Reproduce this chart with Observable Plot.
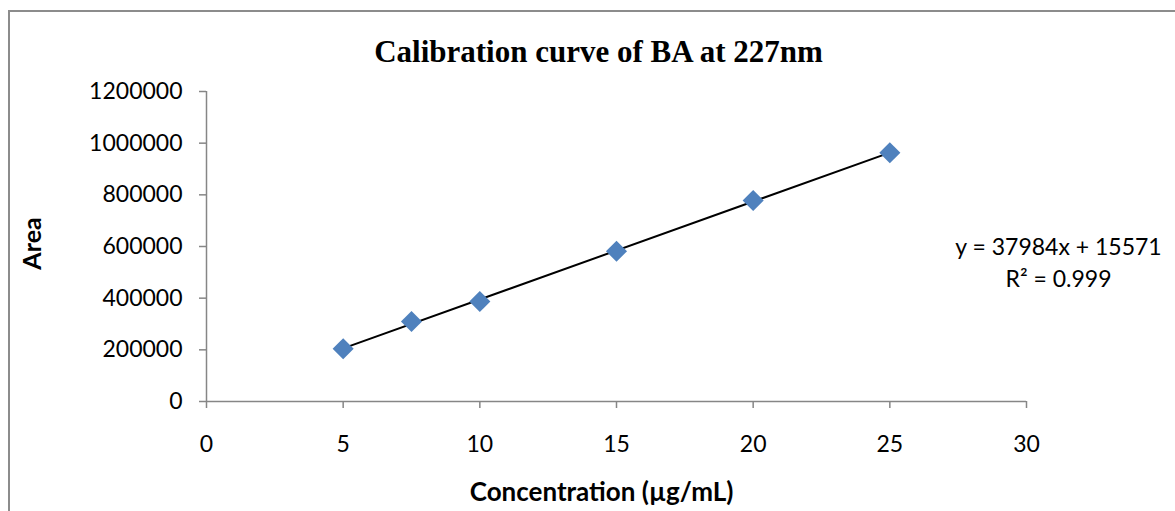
<!DOCTYPE html>
<html>
<head>
<meta charset="utf-8">
<script src="https://cdn.jsdelivr.net/npm/d3@7"></script>
<script src="https://cdn.jsdelivr.net/npm/@observablehq/plot@0.6"></script>
<style>
  html, body { margin: 0; padding: 0; background: #fff; }
  body { position: relative; width: 1175px; height: 511px; overflow: hidden; }
  #frame { position: absolute; left: 8px; top: 10px; width: 1300px; height: 700px;
           border: 2px solid #8c8c8c; box-sizing: border-box; }
  #title { position: absolute; left: 0; top: 36px; width: 1197px; text-align: center;
           font-family: "Liberation Serif", "Times New Roman", serif; font-weight: bold;
           font-size: 31px; line-height: 31px; color: #000; }
  #chart { position: absolute; left: 0; top: 0; }
</style>
</head>
<body>
<div id="frame"></div>
<div id="title">Calibration curve of BA at 227nm</div>
<div id="chart"></div>
<script>
// Data
const concentration = [5, 7.5, 10, 15, 20, 25];
const area = [204000, 309700, 387100, 581800, 778000, 962700];
const xTicks = [0, 5, 10, 15, 20, 25, 30];
const yTicks = [0, 200000, 400000, 600000, 800000, 1000000, 1200000];
const equationLines = ["y = 37984x + 15571", "R² = 0.999"];
const xLabel = "Concentration (µg/mL)";
const yLabel = "Area";

const points = concentration.map((c, i) => ({x: c, y: area[i]}));
const axisColor = "#868686";
const font = "Lato, 'Open Sans', sans-serif";

const chart = Plot.plot({
  width: 1175,
  height: 511,
  marginLeft: 206,
  marginRight: 149,
  marginTop: 91,
  marginBottom: 110,
  style: {background: "transparent", fontFamily: font, fontSize: "23px", color: "#000"},
  x: {domain: [0, 30]},
  y: {domain: [0, 1200000]},
  marks: [
    Plot.ruleY([0], {stroke: axisColor, strokeWidth: 1.5}),
    Plot.ruleX([0], {stroke: axisColor, strokeWidth: 1.5}),
    Plot.axisX({ticks: xTicks, tickSize: 7, tickPadding: 27, stroke: axisColor, strokeWidth: 1.5,
                fill: "#000", fontSize: 23, label: null, tickFormat: d => String(d)}),
    Plot.axisY({ticks: yTicks, tickSize: 7, tickPadding: 17, stroke: axisColor, strokeWidth: 1.5,
                fill: "#000", fontSize: 23, label: null, tickFormat: d => String(d)}),
    Plot.linearRegressionY(points, {x: "x", y: "y", stroke: "#000", strokeWidth: 2, ci: 0}),
    Plot.dot(points, {x: "x", y: "y", symbol: "diamond2", r: 9.5, fill: "#4F81BD", stroke: "none"}),
    Plot.text([equationLines[0]], {frameAnchor: "right", textAnchor: "middle", dx: 32, dy: 1,
               fontSize: 23, fill: "#000"}),
    Plot.text([equationLines[1]], {frameAnchor: "right", textAnchor: "middle", dx: 32, dy: 33,
               fontSize: 23, fill: "#000"}),
    Plot.text([xLabel], {frameAnchor: "bottom", textAnchor: "middle", dx: -15, dy: 99, fontSize: 26,
               fontWeight: "bold", fill: "#000"}),
    Plot.text([yLabel], {frameAnchor: "left", textAnchor: "middle", dx: -174, dy: -3, rotate: -90,
               fontSize: 25, fontWeight: "bold", fill: "#000"})
  ]
});
document.getElementById("chart").appendChild(chart);
</script>
</body>
</html>
